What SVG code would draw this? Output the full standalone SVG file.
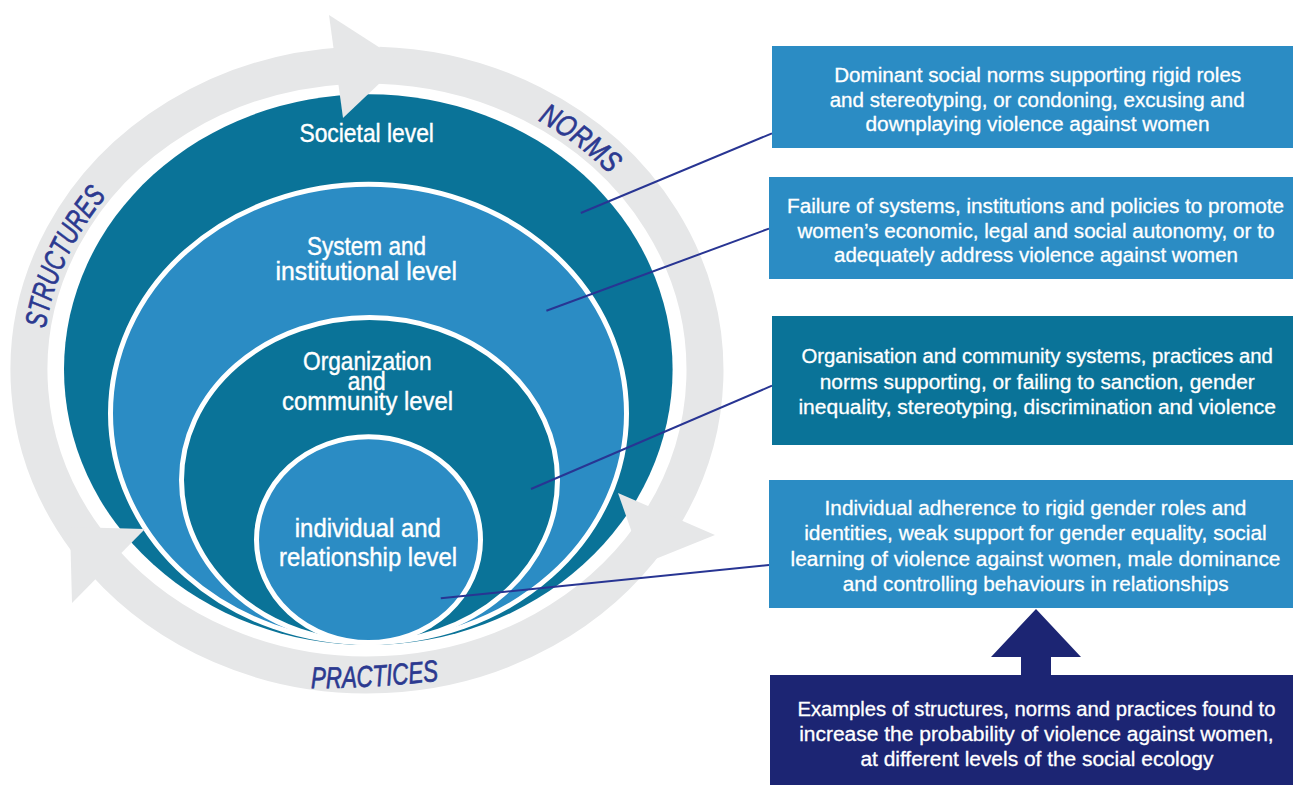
<svg xmlns="http://www.w3.org/2000/svg" width="1293" height="785" viewBox="0 0 1293 785">
<style>
.band{fill:none;stroke:#e6e7e8;stroke-width:37}
.head{fill:#e6e7e8}
.teal{fill:#0a7398}
.blue{fill:#2b8cc4}
.ring{stroke:#fff;stroke-width:5}
.lvl{font-family:"Liberation Sans",Arial,sans-serif;font-size:25px;fill:#fff;text-anchor:middle;stroke:#fff;stroke-width:0.4}
.arc{font-family:"Liberation Sans",Arial,sans-serif;font-size:30px;font-style:italic;fill:#2b3990;text-anchor:middle;stroke:#2b3990;stroke-width:0.7}
.box{font-family:"Liberation Sans",Arial,sans-serif;font-size:20px;fill:#fff;text-anchor:middle;stroke:#fff;stroke-width:0.3}
.conn{stroke:#283593;stroke-width:2;fill:none}
.navy{fill:#1c2573}
</style>
<defs>
<path id="pStruct" d="M 45.2 410.5 A 325 291 0 0 1 166.9 140.7"/>
<path id="pNorms" d="M 426.4 81.9 A 326 293 0 0 1 674.3 272.2"/>
<path id="pPract" d="M 290 688 Q 370 690 460 678"/>
</defs>
<rect width="1293" height="785" fill="#fff"/>

<g id="societal">
<ellipse class="teal" cx="368.3" cy="369.6" rx="304.3" ry="275.4"/>
<text class="lvl" x="366.7" y="141.7" textLength="134.5" lengthAdjust="spacingAndGlyphs">Societal level</text>
</g>
<g id="system">
<ellipse class="blue ring" cx="368.5" cy="413.4" rx="258" ry="229.2"/>
<text class="lvl"><tspan x="366.5" y="255" textLength="119" lengthAdjust="spacingAndGlyphs">System and</tspan><tspan x="366.3" y="280" textLength="181.5" lengthAdjust="spacingAndGlyphs">institutional level</tspan></text>
</g>
<g id="organization">
<ellipse class="teal ring" cx="369.5" cy="480" rx="188" ry="162.5"/>
<text class="lvl"><tspan x="367.3" y="370" textLength="128.6" lengthAdjust="spacingAndGlyphs">Organization</tspan><tspan x="366.7" y="390" textLength="38" lengthAdjust="spacingAndGlyphs">and</tspan><tspan x="367.5" y="410" textLength="171" lengthAdjust="spacingAndGlyphs">community level</tspan></text>
</g>
<g id="individual">
<ellipse class="blue ring" cx="368.5" cy="539.7" rx="112" ry="102.9"/>
<text class="lvl"><tspan x="367.8" y="537" textLength="146" lengthAdjust="spacingAndGlyphs">individual and</tspan><tspan x="368" y="566" textLength="178" lengthAdjust="spacingAndGlyphs">relationship level</tspan></text>
</g>

<g id="cycle">
<path class="band" d="M 86.8 540.6 A 338 305 0 0 1 343.4 65.7"/>
<path class="band" d="M 378.8 65.2 A 338 305 0 0 1 662.6 517.9"/>
<path class="band" d="M 650.5 536.1 A 338 305 0 0 1 104.3 561.9"/>
<polygon class="head" points="329,15 402,62 343,118"/>
<polygon class="head" points="618,493 715,535 643,564"/>
<polygon class="head" points="72,603 70,527 145,529"/>
<text class="arc"><textPath href="#pStruct" startOffset="50%" textLength="148" lengthAdjust="spacingAndGlyphs">STRUCTURES</textPath></text>
<text class="arc"><textPath href="#pNorms" startOffset="50%" textLength="90" lengthAdjust="spacingAndGlyphs">NORMS</textPath></text>
<text class="arc"><textPath href="#pPract" startOffset="50%" textLength="128" lengthAdjust="spacingAndGlyphs">PRACTICES</textPath></text>
</g>

<g id="connectors">
<line class="conn" x1="580.8" y1="213" x2="772" y2="133.3"/>
<line class="conn" x1="546.4" y1="310.7" x2="769" y2="228.6"/>
<line class="conn" x1="531" y1="489" x2="772" y2="385.7"/>
<line class="conn" x1="440.8" y1="598.3" x2="769" y2="565"/>
<polygon class="navy" points="1036,609 1081,657 1051,657 1051,677 1021,677 1021,657 991,657"/>
</g>

<g id="box-societal">
<rect class="blue" x="772" y="46" width="521" height="102"/>
<text class="box"><tspan x="1037.7" y="81.7" textLength="407" lengthAdjust="spacingAndGlyphs">Dominant social norms supporting rigid roles</tspan><tspan x="1037.2" y="106.7" textLength="415" lengthAdjust="spacingAndGlyphs">and stereotyping, or condoning, excusing and</tspan><tspan x="1037.5" y="131" textLength="344" lengthAdjust="spacingAndGlyphs">downplaying violence against women</tspan></text>
</g>
<g id="box-system">
<rect class="blue" x="769" y="177" width="524" height="102"/>
<text class="box"><tspan x="1035.5" y="213.3" textLength="497" lengthAdjust="spacingAndGlyphs">Failure of systems, institutions and policies to promote</tspan><tspan x="1035.9" y="237.5" textLength="477" lengthAdjust="spacingAndGlyphs">women’s economic, legal and social autonomy, or to</tspan><tspan x="1036" y="261.7" textLength="404" lengthAdjust="spacingAndGlyphs">adequately address violence against women</tspan></text>
</g>
<g id="box-organization">
<rect class="teal" x="772" y="316" width="521" height="129"/>
<text class="box"><tspan x="1037.2" y="363.3" textLength="471.5" lengthAdjust="spacingAndGlyphs">Organisation and community systems, practices and</tspan><tspan x="1037.2" y="389.3" textLength="435" lengthAdjust="spacingAndGlyphs">norms supporting, or failing to sanction, gender</tspan><tspan x="1037.2" y="414.3" textLength="477.6" lengthAdjust="spacingAndGlyphs">inequality, stereotyping, discrimination and violence</tspan></text>
</g>
<g id="box-individual">
<rect class="blue" x="769" y="480" width="524" height="128"/>
<text class="box"><tspan x="1035.5" y="515" textLength="421.8" lengthAdjust="spacingAndGlyphs">Individual adherence to rigid gender roles and</tspan><tspan x="1035.5" y="540" textLength="462.6" lengthAdjust="spacingAndGlyphs">identities, weak support for gender equality, social</tspan><tspan x="1035.5" y="565.7" textLength="489.8" lengthAdjust="spacingAndGlyphs">learning of violence against women, male dominance</tspan><tspan x="1035.7" y="591" textLength="386" lengthAdjust="spacingAndGlyphs">and controlling behaviours in relationships</tspan></text>
</g>
<g id="box-examples">
<rect class="navy" x="770" y="675" width="523" height="110"/>
<text class="box"><tspan x="1036.4" y="715.5" textLength="478" lengthAdjust="spacingAndGlyphs">Examples of structures, norms and practices found to</tspan><tspan x="1036.4" y="740.5" textLength="474.5" lengthAdjust="spacingAndGlyphs">increase the probability of violence against women,</tspan><tspan x="1036.9" y="766" textLength="353" lengthAdjust="spacingAndGlyphs">at different levels of the social ecology</tspan></text>
</g>
</svg>
